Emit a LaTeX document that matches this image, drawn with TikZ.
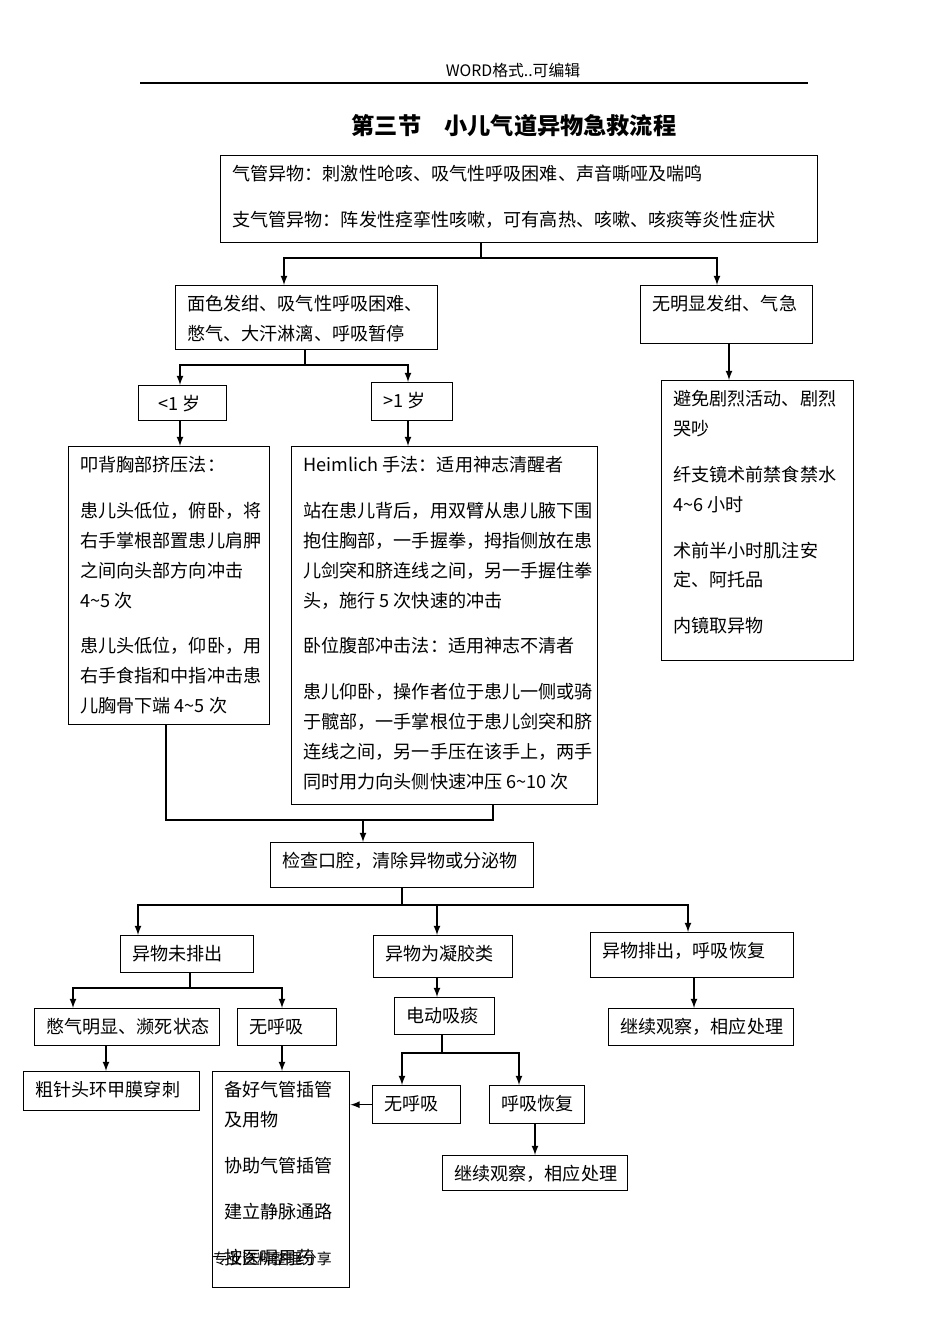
\documentclass[tikz,border=0pt]{standalone}
\usepackage{fontspec}
\setmainfont{Noto Sans CJK SC}
\usetikzlibrary{positioning,calc}
\tikzset{
  box/.style={draw,thick,anchor=north west,inner sep=0pt},
  txt/.style={anchor=north west,align=left,inner sep=0pt,
              font=\fontsize{10.3pt}{17pt}\selectfont},
  arr/.style={->,thick,>=latex},
  ln/.style={thick}
}
% box: name, x1, y1, x2, y2, text
\newcommand\flowbox[6]{%
  \node[box,minimum width={(#4-#2)*0.02cm},minimum height={(#5-#3)*0.02cm}] (#1) at (#2,#3) {};
  \node[txt] (#1t) at (#2+12,#3+10) {#6};}
\newcommand\gap{\\[0.32cm]}
\begin{document}
\begin{tikzpicture}[x=0.02cm,y=-0.02cm]
\useasboundingbox (0,0) rectangle (950,1344);
% header
\node[font=\fontsize{9pt}{11pt}\selectfont] (head) at (513,70) {WORD格式..可编辑};
\draw[ln] (140,83) -- (808,83);
\node[font=\fontsize{13.2pt}{17pt}\selectfont\bfseries] (title) at (514,126) {第三节\quad 小儿气道异物急救流程};
% boxes
\flowbox{top}{220}{155}{817}{242}{气管异物：刺激性呛咳、吸气性呼吸困难、声音嘶哑及喘鸣\gap 支气管异物：阵发性痉挛性咳嗽，可有高热、咳嗽、咳痰等炎性症状}
\flowbox{sev}{175}{285}{437}{349}{面色发绀、吸气性呼吸困难、\\憋气、大汗淋漓、呼吸暂停}
\flowbox{mild}{640}{285}{812}{343}{无明显发绀、气急}
\flowbox{lt}{138}{385}{226}{420}{\ \ <1 岁}
\flowbox{gt}{371}{382}{452}{420}{>1 岁}
\flowbox{care}{661}{380}{853}{660}{避免剧烈活动、剧烈\\哭吵\gap 纤支镜术前禁食禁水\\4\textasciitilde 6 小时\gap 术前半小时肌注安\\定、阿托品\gap 内镜取异物}
\flowbox{back}{68}{446}{269}{724}{叩背胸部挤压法：\gap 患儿头低位，俯卧，将\\右手掌根部置患儿肩胛\\之间向头部方向冲击\\4\textasciitilde 5 次\gap 患儿头低位，仰卧，用\\右手食指和中指冲击患\\儿胸骨下端 4\textasciitilde 5 次}
\flowbox{heim}{291}{446}{597}{804}{Heimlich 手法：适用神志清醒者\gap 站在患儿背后，用双臂从患儿腋下围\\抱住胸部，一手握拳，拇指侧放在患\\儿剑突和脐连线之间，另一手握住拳\\头，施行 5 次快速的冲击\gap 卧位腹部冲击法：适用神志不清者\gap 患儿仰卧，操作者位于患儿一侧或骑\\于髋部，一手掌根位于患儿剑突和脐\\连线之间，另一手压在该手上，两手\\同时用力向头侧快速冲压 6\textasciitilde 10 次}
\flowbox{oral}{270}{842}{533}{887}{检查口腔，清除异物或分泌物}
\flowbox{notout}{120}{935}{253}{972}{异物未排出}
\flowbox{gel}{373}{935}{512}{977}{异物为凝胶类}
\flowbox{out}{590}{932}{793}{977}{异物排出，呼吸恢复}
\flowbox{chok}{34}{1008}{219}{1045}{憋气明显、濒死状态}
\flowbox{nobr}{237}{1008}{336}{1045}{无呼吸}
\flowbox{suck}{394}{997}{494}{1034}{电动吸痰}
\flowbox{obs}{608}{1008}{793}{1045}{继续观察，相应处理}
\flowbox{punc}{23}{1071}{199}{1110}{粗针头环甲膜穿刺}
\flowbox{intu}{212}{1071}{349}{1287}{备好气管插管\\及用物\gap 协助气管插管\gap 建立静脉通路\gap 按医嘱用药}
\flowbox{nobrb}{372}{1085}{460}{1123}{无呼吸}
\flowbox{rec}{489}{1085}{584}{1123}{呼吸恢复}
\flowbox{obsb}{442}{1155}{627}{1190}{继续观察，相应处理}
\node[anchor=west,inner sep=0pt,font=\fontsize{8.5pt}{11pt}\selectfont] (foot) at (212,1259) {专业资料整理分享};
% connectors
\coordinate (s1) at (481,258);
\draw[ln] (top.south -| s1) -- (s1);
\draw[arr] (s1) -| (284,285);
\draw[arr] (s1) -| (717,285);
\coordinate (s2) at (305,365);
\draw[ln] (305,349) -- (s2);
\draw[arr] (s2) -| (180,385);
\draw[arr] (s2) -| (408,382);
\draw[arr] (729,343) -- (729,380);
\draw[arr] (180,420) -- (180,446);
\draw[arr] (408,420) -- (408,446);
\coordinate (s3) at (363,820);
\draw[ln] (166,724) |- (s3);
\draw[ln] (493,804) |- (s3);
\draw[arr] (s3) -- (363,842);
\coordinate (s4) at (402,905);
\draw[ln] (402,887) -- (s4);
\draw[arr] (s4) -| (138,935);
\draw[arr] (s4) -| (437,935);
\draw[arr] (s4) -| (688,932);
\coordinate (s5) at (190,988);
\draw[ln] (190,972) -- (s5);
\draw[arr] (s5) -| (73,1008);
\draw[arr] (s5) -| (282,1008);
\draw[arr] (106,1045) -- (106,1071);
\draw[arr] (282,1045) -- (282,1071);
\draw[arr] (437,977) -- (437,997);
\draw[arr] (694,977) -- (694,1008);
\coordinate (s6) at (442,1053);
\draw[ln] (442,1034) -- (s6);
\draw[arr] (s6) -| (402,1085);
\draw[arr] (s6) -| (519,1085);
\draw[arr] (nobrb.west) -- (intu.east |- nobrb.west);
\draw[arr] (535,1123) -- (535,1155);
\end{tikzpicture}
\end{document}
